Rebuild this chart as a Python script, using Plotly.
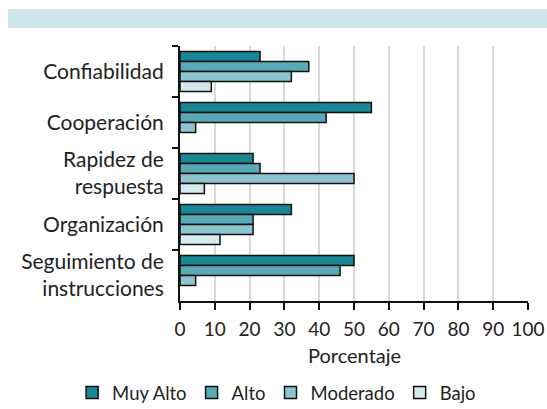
import plotly.graph_objects as go

categories = ["Confiabilidad", "Cooperación", "Rapidez de<br>respuesta", "Organización", "Seguimiento de<br>instrucciones"]
series_names = ["Muy Alto", "Alto", "Moderado", "Bajo"]
muy_alto = [23, 55, 21, 32, 50]
alto = [37, 42, 23, 21, 46]
moderado = [32, 4.5, 50, 21, 4.5]
bajo = [9, 0, 7, 11.5, 0]
x_ticks = [0, 10, 20, 30, 40, 50, 60, 70, 80, 90, 100]

colors = ["#1a8797", "#5aa9b6", "#8cc5cd", "#d4eaee"]
values = [muy_alto, alto, moderado, bajo]

fig = go.Figure()
for name, vals, col in zip(series_names, values, colors):
    fig.add_trace(go.Bar(
        y=categories, x=vals, name=name, orientation="h",
        marker=dict(color=col,
                    line=dict(color="#111111", width=[1.5 if v > 0 else 0 for v in vals])),
    ))

font_family = "Lato, Open Sans, sans-serif"
fig.update_layout(
    width=547, height=409,
    margin=dict(l=180, r=19, t=46, b=108, autoexpand=False),
    paper_bgcolor="white", plot_bgcolor="white",
    barmode="group", bargap=0.22, bargroupgap=0.0,
    font=dict(family=font_family, size=20, color="#222222"),
    showlegend=True,
    legend=dict(orientation="h", xref="paper", yref="paper",
                x=-0.31, xanchor="left", y=-0.361, yanchor="middle",
                font=dict(size=18.5), itemwidth=30, traceorder="normal",
                tracegroupgap=0),
    shapes=[dict(type="rect", xref="paper", yref="paper",
                 x0=-0.494, x1=1.06, y0=1.071, y1=1.145,
                 fillcolor="#cfe7ea", line=dict(width=0), layer="below")],
    annotations=[dict(text="Porcentaje", xref="paper", yref="paper",
                      x=0.5, y=-0.212, xanchor="center", yanchor="middle",
                      showarrow=False, font=dict(size=20))],
)
fig.update_xaxes(
    range=[0, 100], tickvals=x_ticks, ticktext=[str(v) for v in x_ticks],
    showgrid=True, gridcolor="#d9d9d9", gridwidth=1.5,
    showline=True, linecolor="#111111", linewidth=2,
    ticks="outside", ticklen=7, tickwidth=2, tickcolor="#111111",
    zeroline=False, automargin=False, ticklabelstandoff=3,
    tickfont=dict(size=19),
)
fig.update_yaxes(
    autorange="reversed", showgrid=False, automargin=False,
    showline=True, linecolor="#111111", linewidth=2,
    ticks="outside", ticklen=6, tickwidth=2, tickcolor="#111111",
    tickson="boundaries", ticklabelstandoff=10,
    tickfont=dict(size=21),
)
fig.write_html("out.html", config={"displayModeBar": False},
               post_script="document.body.style.margin='0';document.body.style.overflow='hidden';")
